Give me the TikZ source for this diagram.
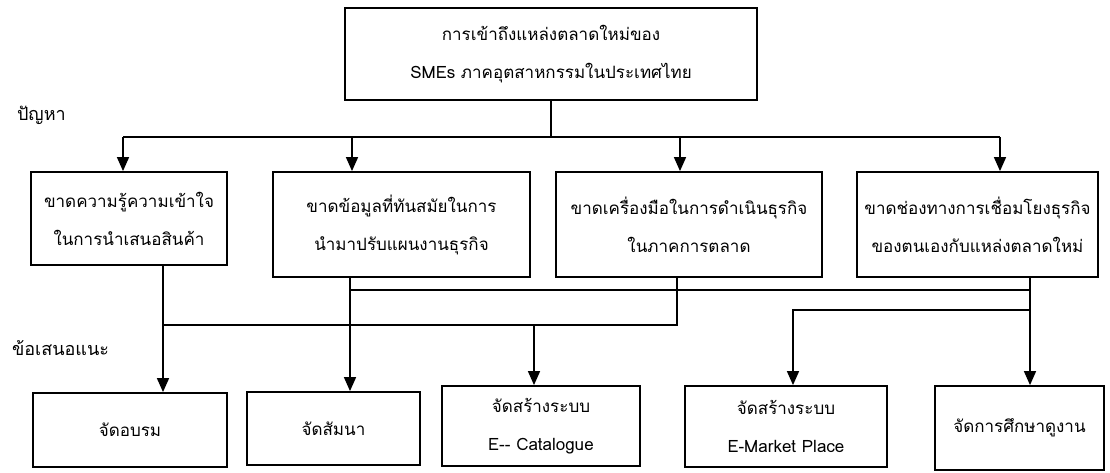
\documentclass[tikz,border=0pt]{standalone}
\usepackage{fontspec}
\newfontfamily\thaifont[Script=Thai]{Loma}
\usetikzlibrary{arrows.meta,positioning}

\begin{document}
\begin{tikzpicture}[x=0.5pt,y=-0.5pt,
    box/.style={draw, rectangle, line width=0.9pt, align=center, inner sep=0pt,
                font=\thaifont\fontsize{8.5}{19}\selectfont},
    lbl/.style={anchor=west, font=\thaifont\fontsize{9}{19}\selectfont},
    arr/.style={line width=0.75pt, -{Triangle[length=7pt,width=6pt]}},
    ln/.style={line width=0.75pt}]
        \useasboundingbox (0,0) rectangle (1110,472);

        % top
        \node[box, minimum width=206pt, minimum height=46pt] (top) at (551,54)
            {การเข้าถึงแหล่งตลาดใหม่ของ\\SMEs ภาคอุตสาหกรรมในประเทศไทย};
        \node[lbl] (prob) at (10,115) {ปัญหา};
        \node[lbl] (sugg) at (5,348) {ข้อเสนอแนะ};

        % problems
        \node[box, minimum width=98pt, minimum height=46.5pt] (p1) at (129,218.5)
            {ขาดความรู้ความเข้าใจ\\ในการนำเสนอสินค้า};
        \node[box, minimum width=128.5pt, minimum height=52.5pt] (p2) at (401.5,224.5)
            {ขาดข้อมูลที่ทันสมัยในการ\\นำมาปรับแผนงานธุรกิจ};
        \node[box, minimum width=133pt, minimum height=52.5pt] (p3) at (689,224.5)
            {ขาดเครื่องมือในการดำเนินธุรกิจ\\ในภาคการตลาด};
        \node[box, minimum width=120.5pt, minimum height=52.5pt] (p4) at (977.5,224.5)
            {ขาดช่องทางการเชื่อมโยงธุรกิจ\\ของตนเองกับแหล่งตลาดใหม่};

        % suggestions
        \node[box, minimum width=97pt, minimum height=37pt] (s1) at (130,430) {จัดอบรม};
        \node[box, minimum width=86.5pt, minimum height=36.5pt] (s2) at (333.5,428.5) {จัดสัมนา};
        \node[box, minimum width=99pt, minimum height=40pt] (s3) at (541,426)
            {จัดสร้างระบบ\\E-- Catalogue};
        \node[box, minimum width=101pt, minimum height=40.5pt] (s4) at (786,426.5)
            {จัดสร้างระบบ\\E-Market Place};
        \node[box, minimum width=84.5pt, minimum height=42pt] (s5) at (1019.5,428)
            {จัดการศึกษาดูงาน};

        % junctions
        \coordinate (h1) at (123,137);
        \coordinate (h2) at (352,137);
        \coordinate (h3) at (680,137);
        \coordinate (h4) at (1000,137);
        \coordinate (d1) at (163,325);
        \coordinate (d3) at (677,325);
        \coordinate (c3) at (534,325);
        \coordinate (e2) at (350,290);
        \coordinate (e4) at (1030,290);
        \coordinate (m4) at (1030,310);
        \coordinate (m5) at (793,310);

        \draw[ln] (top.south) -- (top.south |- h1);
        \draw[ln] (h1) -- (h4);
        \foreach \i in {1,...,4}
            \draw[arr] (h\i) -- (h\i |- p\i.north);

        \draw[arr] (p1.south -| d1) -- (d1 |- s1.north);
        \draw[ln] (d1) -- (d3) -- (p3.south -| d3);
        \draw[arr] (c3) -- (c3 |- s3.north);
        \draw[arr] (p2.south -| e2) -- (e2 |- s2.north);
        \draw[ln] (e2) -- (e4);
        \draw[arr] (p4.south -| e4) -- (e4 |- s5.north);
        \draw[arr] (m4) -- (m5) -- (m5 |- s4.north);
    \end{tikzpicture}
\end{document}
